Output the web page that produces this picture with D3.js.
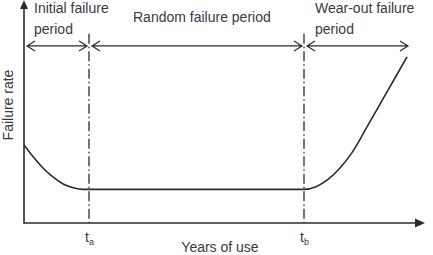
<!DOCTYPE html>
<html>
<head>
<meta charset="utf-8">
<script src="https://cdn.jsdelivr.net/npm/d3@7"></script>
<style>
  body { margin: 0; background: #fff; }
  svg text { font-family: 'Liberation Sans', Arial, sans-serif; fill: #3a3a3a; }
</style>
</head>
<body>
<div class="container"></div>
<script>
// bathtub curve (x = years of use, y = failure rate)
const ta = 1.625;
const tb = 7.0;
const xMax = 10;
const yMax = 10;

const curveX = [0, 0.23, 0.48, 0.73, 0.98, 1.23, 1.48, 1.625, 7.0, 7.3, 7.6, 7.9, 8.2, 8.6, 9.0, 9.3, 9.575];
const curveY = [3.55, 3.01, 2.49, 2.08, 1.77, 1.6, 1.53, 1.53, 1.53, 1.65, 1.98, 2.5, 3.2, 4.45, 5.72, 6.67, 7.55];

const periodStart = [0, ta, tb];
const periodEnd = [ta, tb, 9.65];
const periodLabels = [['Initial failure', 'period'], ['Random failure period'], ['Wear-out failure', 'period']];
const tickNames = ['a', 'b'];
const tickValues = [ta, tb];

const width = 433;
const height = 255;
const arrowY = 8.05;
const lineTop = 8.6;

const svg = d3
  .select('.container')
  .append('svg')
  .attr('width', width)
  .attr('height', height);

const x = d3.scaleLinear().domain([0, xMax]).range([24, 424]);
const y = d3.scaleLinear().domain([0, yMax]).range([223, 3]);

const ink = '#2b2b2b';

// axes with filled arrow heads
svg
  .append('line')
  .attr('x1', x(0))
  .attr('x2', x(0))
  .attr('y1', y(0) + 0.75)
  .attr('y2', y(yMax) + 4)
  .attr('stroke', ink)
  .attr('stroke-width', 1.6);

svg
  .append('path')
  .attr('d', `M${x(0)},${y(yMax) - 3} L${x(0) - 4},${y(yMax) + 6} L${x(0) + 4},${y(yMax) + 6}Z`)
  .attr('fill', ink);

svg
  .append('line')
  .attr('x1', x(0))
  .attr('x2', x(xMax) - 6)
  .attr('y1', y(0))
  .attr('y2', y(0))
  .attr('stroke', ink)
  .attr('stroke-width', 1.6);

svg
  .append('path')
  .attr('d', `M${x(xMax) + 1},${y(0)} L${x(xMax) - 9},${y(0) - 4.5} L${x(xMax) - 9},${y(0) + 4.5}Z`)
  .attr('fill', ink);

// dash-dot boundaries
svg
  .selectAll('.boundary')
  .data(tickValues)
  .enter()
  .append('line')
  .attr('class', 'boundary')
  .attr('x1', d => x(d))
  .attr('x2', d => x(d))
  .attr('y1', y(lineTop))
  .attr('y2', y(0))
  .attr('stroke', ink)
  .attr('stroke-width', 1.3)
  .attr('stroke-dasharray', '10,3,1.5,3');

// the curve
const points = curveX.map((v, i) => [v, curveY[i]]);
svg
  .append('path')
  .datum(points)
  .attr('fill', 'none')
  .attr('stroke', ink)
  .attr('stroke-width', 1.6)
  .attr('d', d3.line().x(d => x(d[0])).y(d => y(d[1])).curve(d3.curveMonotoneX));

// double-headed period arrows
const periods = periodStart.map((s, i) => ({ x1: x(s) + 3, x2: x(periodEnd[i]) - 2 }));
const ay = y(arrowY);

const arrows = svg.selectAll('.period').data(periods).enter().append('g').attr('class', 'period');

arrows
  .append('path')
  .attr('fill', 'none')
  .attr('stroke', ink)
  .attr('stroke-width', 1.2)
  .attr('d', d => `M${d.x1},${ay} L${d.x2},${ay}
    M${d.x1 + 8},${ay - 5} L${d.x1},${ay} L${d.x1 + 8},${ay + 5}
    M${d.x2 - 8},${ay - 5} L${d.x2},${ay} L${d.x2 - 8},${ay + 5}`);

// labels above the arrows
const labelX = [34, 133, 315];
const labelY = [13, 22, 13];
periodLabels.forEach((lines, i) => {
  lines.forEach((txt, j) => {
    svg
      .append('text')
      .attr('x', labelX[i])
      .attr('y', labelY[i] + j * 21)
      .attr('font-size', 14)
      .text(txt);
  });
});

// t_a, t_b
const ticks = svg
  .selectAll('.tick-label')
  .data(tickValues)
  .enter()
  .append('text')
  .attr('class', 'tick-label')
  .attr('x', d => x(d) - 4)
  .attr('y', 242)
  .attr('font-size', 14);

ticks.append('tspan').text('t');
ticks
  .append('tspan')
  .attr('dy', 3)
  .attr('font-size', 9)
  .text((d, i) => tickNames[i]);

// axis titles
svg
  .append('text')
  .attr('x', 220)
  .attr('y', 252)
  .attr('text-anchor', 'middle')
  .attr('font-size', 14)
  .text('Years of use');

svg
  .append('text')
  .attr('transform', 'translate(13, 105) rotate(-90)')
  .attr('text-anchor', 'middle')
  .attr('font-size', 14)
  .text('Failure rate');
</script>
</body>
</html>
